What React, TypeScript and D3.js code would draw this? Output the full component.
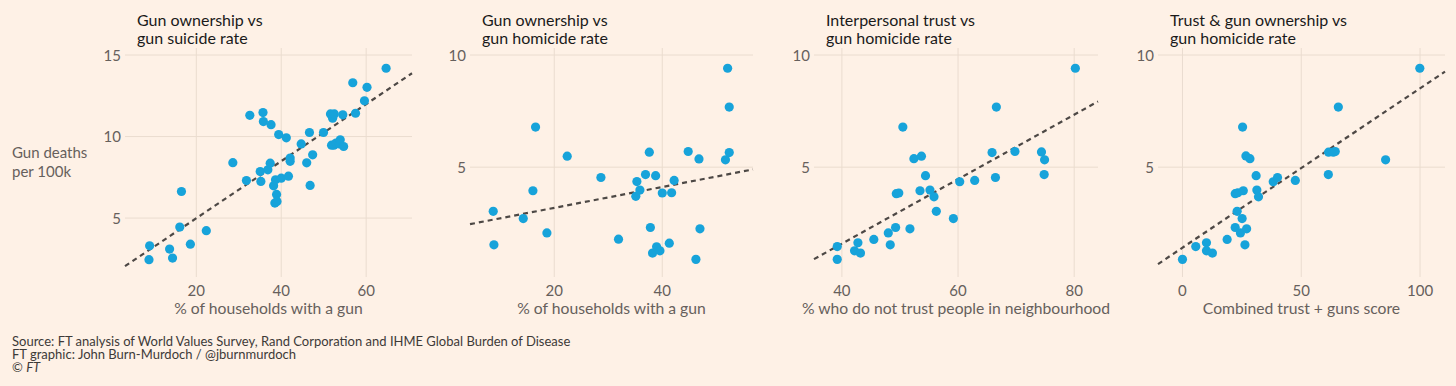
import React from "react";
import * as d3 from "d3";

// panel 1: gun ownership vs gun suicide rate
const ownershipSuicide: [number, number][] = [
  [9.0, 3.3], [8.85, 2.45], [13.7, 3.1], [14.4, 2.55], [16.1, 4.45], [16.5, 6.63],
  [18.6, 3.4], [22.35, 4.23], [28.6, 8.4], [31.8, 7.3], [32.6, 11.3], [35.2, 7.25],
  [35.05, 7.85], [35.7, 11.47], [35.8, 10.92], [37.6, 10.73], [36.85, 7.96], [37.4, 8.37],
  [38.2, 6.98], [38.65, 7.35], [38.9, 6.45], [38.5, 5.92], [39.0, 6.02], [40.0, 7.45],
  [39.4, 10.12], [41.2, 9.92], [41.7, 7.57], [42.1, 8.68], [42.1, 8.48], [44.7, 9.55],
  [46.0, 8.39], [46.65, 10.25], [46.8, 7.0], [47.4, 8.88], [49.95, 10.25], [51.6, 11.39],
  [52.1, 11.13], [52.5, 11.39], [51.85, 9.47], [52.4, 9.47], [52.9, 9.6], [53.7, 9.55],
  [53.9, 9.8], [54.7, 9.39], [54.5, 11.33], [57.5, 11.43], [56.85, 13.3], [59.6, 12.19],
  [60.2, 13.02], [64.7, 14.19],
];

// panel 2: gun ownership vs gun homicide rate
const ownershipHomicide: [number, number][] = [
  [8.7, 3.03], [8.83, 1.54], [14.26, 2.71], [16.05, 3.95], [16.54, 6.79], [18.64, 2.07],
  [22.4, 5.49], [28.64, 4.54], [31.9, 1.79], [35.3, 4.36], [35.1, 3.7], [35.86, 3.98],
  [36.9, 4.67], [37.6, 5.67], [37.8, 2.31], [38.77, 4.62], [38.2, 1.17], [38.95, 1.45],
  [39.57, 1.27], [40.0, 3.85], [41.73, 3.86], [42.2, 4.41], [41.3, 1.61], [44.8, 5.7],
  [46.8, 5.37], [46.98, 2.25], [46.23, 0.89], [51.7, 5.33], [52.1, 9.41], [52.4, 7.68],
  [52.4, 5.65],
];

// panel 3: interpersonal trust vs gun homicide rate
const trustHomicide: [number, number][] = [
  [39.2, 1.46], [39.2, 0.89], [42.18, 1.27], [42.76, 1.63], [43.2, 1.17], [45.5, 1.78],
  [47.99, 2.07], [48.33, 1.54], [49.25, 2.31], [49.37, 3.82], [49.8, 3.85], [50.5, 6.79],
  [51.72, 2.25], [52.4, 5.38], [53.45, 3.95], [53.7, 5.49], [54.4, 4.62], [55.17, 3.98],
  [55.86, 3.68], [56.26, 3.03], [59.2, 2.71], [60.29, 4.35], [62.87, 4.41], [65.86, 5.65],
  [66.44, 4.54], [66.6, 7.68], [69.8, 5.7], [74.37, 5.68], [74.9, 5.33], [74.83, 4.67],
  [80.2, 9.41],
];

// panel 4: combined score vs gun homicide rate
const combinedHomicide: [number, number][] = [
  [0, 0.89], [5.6, 1.46], [10.1, 1.63], [10.1, 1.27], [12.6, 1.17], [18.8, 1.78],
  [22.2, 2.31], [22.2, 3.82], [23.3, 3.86], [23.0, 3.03], [24.4, 2.07], [25.1, 2.71],
  [25.6, 3.95], [25.3, 6.79], [26.3, 1.54], [27.0, 2.25], [26.7, 5.5], [28.4, 5.38],
  [31.0, 4.62], [31.3, 3.98], [32.0, 3.68], [38.2, 4.35], [40.0, 4.54], [47.5, 4.41],
  [61.4, 4.67], [61.5, 5.67], [63.5, 5.67], [64.3, 5.7], [65.6, 7.68], [85.5, 5.33],
  [99.9, 9.41],
];

// dashed best-fit lines, end points
const trendSuicide: [number, number][] = [[3.2, 2.05], [70.8, 13.88]];
const trendOwnership: [number, number][] = [[4.4, 2.46], [56.8, 4.9]];
const trendTrust: [number, number][] = [[35.2, 0.9], [84.1, 7.93]];
const trendCombined: [number, number][] = [[-10.3, 0.68], [110.5, 9.26]];

const titles = [
  ["Gun ownership vs", "gun suicide rate"],
  ["Gun ownership vs", "gun homicide rate"],
  ["Interpersonal trust vs", "gun homicide rate"],
  ["Trust & gun ownership vs", "gun homicide rate"],
];
const xLabels = [
  "% of households with a gun",
  "% of households with a gun",
  "% who do not trust people in neighbourhood",
  "Combined trust + guns score",
];
const xTicks = [[20, 40, 60], [20, 40], [40, 60, 80], [0, 50, 100]];
const yTicks = [[5, 10, 15], [5, 10], [5, 10], [5, 10]];
const footer = [
  "Source: FT analysis of World Values Survey, Rand Corporation and IHME Global Burden of Disease",
  "FT graphic: John Burn-Murdoch / @jburnmurdoch",
];

const BG = "#fef1e6";
const GRID = "#eadccf";
const DOT = "#17a3da";
const TICK = "#66605c";
const FONT = "Lato, 'Open Sans', sans-serif";

const panels = [
  { data: ownershipSuicide, trend: trendSuicide, xd: [3.2, 70.8], xr: [125, 412], yd: [2.0, 15.4] },
  { data: ownershipHomicide, trend: trendOwnership, xd: [4.4, 56.8], xr: [470, 753], yd: [0.55, 10.3] },
  { data: trustHomicide, trend: trendTrust, xd: [35.2, 84.1], xr: [814, 1098], yd: [0.55, 10.3] },
  { data: combinedHomicide, trend: trendCombined, xd: [-10.3, 110.5], xr: [1158, 1445], yd: [0.55, 10.3] },
];

const top = 48.3, bottom = 267;

function Panel({ p, i }: { p: any; i: number }) {
  const x = d3.scaleLinear().domain(p.xd).range(p.xr);
  const y = d3.scaleLinear().domain(p.yd).range([bottom, i === 0 ? 48.5 : top]);
  const line = d3.line<[number, number]>().x((d) => x(d[0])).y((d) => y(d[1]));
  const [x0, x1] = p.xr;
  return (
    <g>
      {xTicks[i].map((t) => (
        <g key={"vx" + t}>
          <line x1={x(t)} x2={x(t)} y1={48} y2={277} stroke={GRID} strokeWidth={1} />
          <text x={x(t)} y={295.5} textAnchor="middle" fontSize={15} fill={TICK}>{t}</text>
        </g>
      ))}
      {yTicks[i].map((t) => (
        <g key={"hy" + t}>
          <line x1={x0} x2={x1} y1={y(t)} y2={y(t)} stroke={GRID} strokeWidth={1} />
          <text x={x0 - 4} y={y(t) + 5.5} textAnchor="end" fontSize={15} fill={TICK}>{t}</text>
        </g>
      ))}
      <path d={line(p.trend) || ""} fill="none" stroke="#4d4845" strokeWidth={2.2} strokeDasharray="5,4" />
      {p.data.map((d: [number, number], k: number) => (
        <circle key={k} cx={x(d[0])} cy={y(d[1])} r={4.6} fill={DOT} />
      ))}
      <text x={x0 + 12} y={26} fontSize={16} fill="#1a1a1a">
        <tspan x={x0 + 12}>{titles[i][0]}</tspan>
        <tspan x={x0 + 12} dy={17.5}>{titles[i][1]}</tspan>
      </text>
      <text x={(x0 + x1) / 2} y={314} textAnchor="middle" fontSize={15.7} fill={TICK}>{xLabels[i]}</text>
    </g>
  );
}

export default function App() {
  return (
    <svg width={1456} height={386} style={{ position: "absolute", left: 0, top: 0, background: BG }} fontFamily={FONT}>
      <rect width={1456} height={386} fill={BG} />
      <text x={12} y={158} fontSize={15} fill={TICK}>
        <tspan x={12}>Gun deaths</tspan>
        <tspan x={12} dy={18.5}>per 100k</tspan>
      </text>
      {panels.map((p, i) => <Panel key={i} p={p} i={i} />)}
      <text x={12} y={346} fontSize={13} fill="#3d3a38">
        <tspan x={12}>{footer[0]}</tspan>
        <tspan x={12} dy={13}>{footer[1]}</tspan>
        <tspan x={12} dy={13}>© <tspan fontStyle="italic">FT</tspan></tspan>
      </text>
    </svg>
  );
}
